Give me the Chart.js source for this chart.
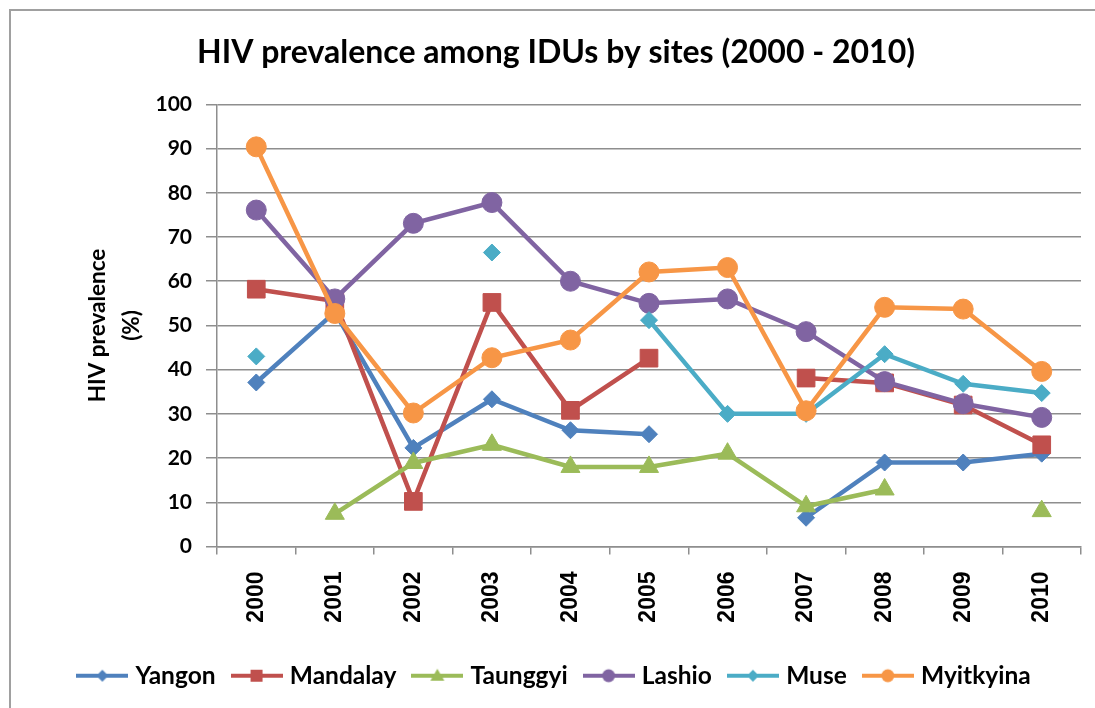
<!DOCTYPE html>
<html>
<head>
<meta charset="utf-8">
<title>HIV prevalence among IDUs by sites</title>
<script src="https://cdn.jsdelivr.net/npm/chart.js@4.4.1/dist/chart.umd.min.js"></script>
<style>
  html, body { margin: 0; padding: 0; background: #fff; }
  #wrap { position: relative; width: 1095px; height: 708px; overflow: hidden; }
  #frame { position: absolute; left: 9px; top: 9px; width: 1200px; height: 800px;
           border-left: 2px solid #a0a0a0; border-top: 2px solid #a0a0a0; }
  canvas { position: absolute; left: 0; top: 0; }
</style>
</head>
<body>
<div id="wrap">
  <div id="frame"></div>
  <canvas id="chart" width="1095" height="708"></canvas>
</div>
<script>
const years = ['2000', '2001', '2002', '2003', '2004', '2005', '2006', '2007', '2008', '2009', '2010'];
const yTicks = [0, 10, 20, 30, 40, 50, 60, 70, 80, 90, 100];

const yangon    = [37.1, 53.0, 22.3, 33.3, 26.3, 25.4, null, 6.5, 19.0, 19.0, 21.0];
const mandalay  = [58.2, 55.5, 10.2, 55.2, 30.8, 42.6, null, 38.1, 37.0, 32.0, 23.0];
const taunggyi  = [null, 7.4, 18.9, 23.0, 18.0, 18.0, 21.0, 9.1, 12.9, null, 8.0];
const lashio    = [76.1, 56.0, 73.1, 77.8, 60.0, 55.0, 56.0, 48.6, 37.3, 32.3, 29.2];
const muse      = [43.0, null, null, 66.5, null, 51.2, 30.0, 30.0, 43.5, 36.8, 34.7];
const myitkyina = [90.4, 52.7, 30.2, 42.7, 46.7, 62.1, 63.1, 30.7, 54.1, 53.7, 39.6];

const sites = ['Yangon', 'Mandalay', 'Taunggyi', 'Lashio', 'Muse', 'Myitkyina'];
const seriesValues = [yangon, mandalay, taunggyi, lashio, muse, myitkyina];
const colors = ['#4F81BD', '#C0504D', '#9BBB59', '#8064A2', '#4BACC6', '#F79646'];
const markers = ['rectRot', 'rect', 'triangle', 'circle', 'rectRot', 'circle'];
const markerSizes = [8.5, 12.5, 11, 10, 8.5, 10];

const gridColor = '#8e8e8e';

// small line + marker picture for each legend entry
const makeIcon = (color, style) => {
    const c = document.createElement('canvas');
    c.width = 52;
    c.height = 20;
    const ctx = c.getContext('2d');
    ctx.strokeStyle = color;
    ctx.fillStyle = color;
    ctx.lineWidth = 4;
    ctx.beginPath();
    ctx.moveTo(0, 10);
    ctx.lineTo(52, 10);
    ctx.stroke();
    ctx.beginPath();
    if (style === 'rectRot') {
        ctx.moveTo(26, 4); ctx.lineTo(32, 10); ctx.lineTo(26, 16); ctx.lineTo(20, 10);
    } else if (style === 'rect') {
        ctx.rect(20, 4, 12, 12);
    } else if (style === 'triangle') {
        ctx.moveTo(26, 3); ctx.lineTo(33, 15); ctx.lineTo(19, 15);
    } else {
        ctx.arc(26, 10, 6.5, 0, Math.PI * 2);
    }
    ctx.closePath();
    ctx.fill();
    return c;
};

const datasets = sites.map((name, i) => ({
    label: name,
    data: seriesValues[i],
    borderColor: colors[i],
    backgroundColor: colors[i],
    borderWidth: 4.5,
    pointStyle: markers[i],
    pointRadius: markerSizes[i],
    pointBorderWidth: 1,
    pointBackgroundColor: colors[i],
    pointBorderColor: colors[i],
    spanGaps: false,
    tension: 0,
    order: sites.length - i
}));

const icons = sites.map((n, i) => makeIcon(colors[i], markers[i]));

new Chart(document.getElementById('chart'), {
    type: 'line',
    data: { labels: years, datasets: datasets },
    options: {
        responsive: false,
        animation: false,
        devicePixelRatio: 1,
        layout: { padding: { left: 31, right: 14, top: 0, bottom: 10 } },
        plugins: {
            title: {
                display: true,
                text: 'HIV prevalence among IDUs by sites (2000 - 2010)',
                color: '#000',
                font: { family: 'Lato', size: 32, weight: 'bold', lineHeight: 1.2 },
                padding: { top: 33, bottom: 33 }
            },
            legend: {
                display: true,
                position: 'bottom',
                labels: {
                    color: '#000',
                    font: { family: 'Lato', size: 24.5, weight: 'bold' },
                    usePointStyle: true,
                    pointStyleWidth: 42,
                    padding: 20,
                    sort: (a, b) => a.datasetIndex - b.datasetIndex,
                    generateLabels: (chart) => {
                        const items = Chart.defaults.plugins.legend.labels.generateLabels(chart);
                        items.forEach((it) => { it.pointStyle = icons[it.datasetIndex]; });
                        return items;
                    }
                }
            },
            tooltip: { enabled: false }
        },
        scales: {
            x: {
                offset: true,
                grid: { offset: true, drawOnChartArea: false, tickLength: 8, color: gridColor, lineWidth: 1.5 },
                border: { color: gridColor, width: 1.5 },
                ticks: {
                    minRotation: 90,
                    maxRotation: 90,
                    padding: 17,
                    color: '#000',
                    font: { family: 'Liberation Sans', size: 23, weight: 'bold' }
                },
                afterFit: (s) => { s.height = 97; }
            },
            y: {
                min: yTicks[0],
                max: yTicks[yTicks.length - 1],
                afterBuildTicks: (s) => { s.ticks = yTicks.map((v) => ({ value: v })); },
                grid: { tickLength: 11, color: gridColor, lineWidth: 1.5 },
                border: { color: gridColor, width: 1.5 },
                ticks: {
                    padding: 14,
                    color: '#000',
                    font: { family: 'Lato', size: 21, weight: 'bold' }
                },
                title: {
                    display: true,
                    text: ['HIV prevalence', '(%)'],
                    color: '#000',
                    font: { family: 'Lato', size: 22.5, weight: 'bold', lineHeight: 1.5 },
                    padding: { top: 50, bottom: 0 }
                },
                afterFit: (s) => { s.width = 186; }
            }
        }
    }
});
</script>
</body>
</html>
